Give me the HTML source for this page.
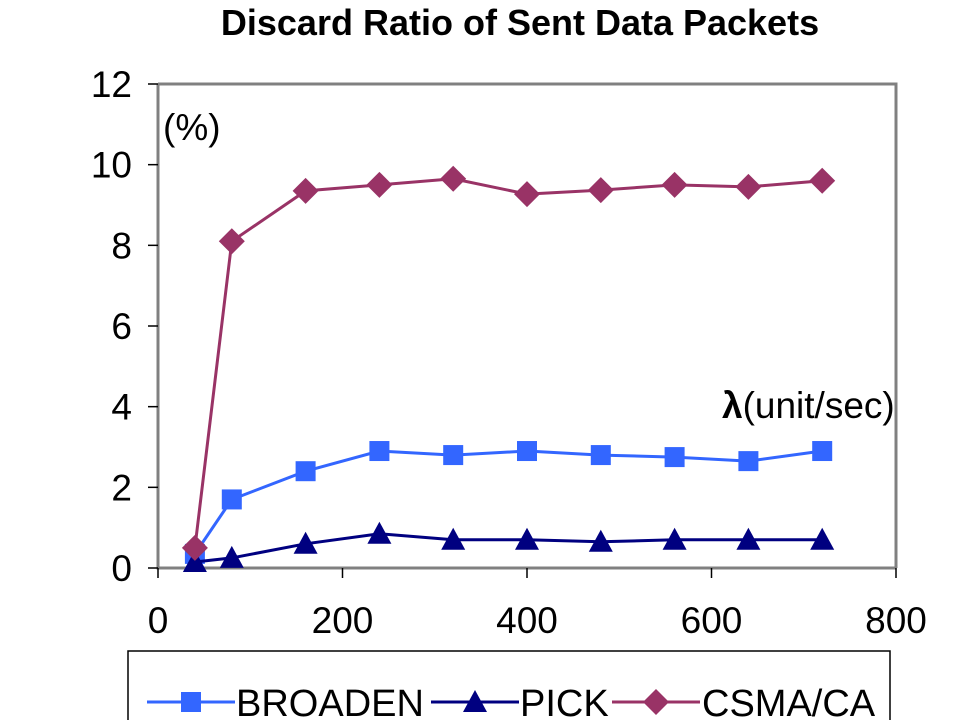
<!DOCTYPE html>
<html><head><meta charset="utf-8"><style>
body{margin:0;background:#fff;}
svg{display:block;font-family:"Liberation Sans",Arial,sans-serif;}
</style></head><body>
<svg id="chart" width="960" height="720">
<text x="520" y="35" text-anchor="middle" font-size="36" font-weight="bold">Discard Ratio of Sent Data Packets</text>
<g id="axes"></g>
<g id="series"></g>
<text x="163" y="140" font-size="37">(%)</text>
<text x="722" y="418" font-size="37"><tspan font-weight="bold">λ</tspan>(unit/sec)</text>
<rect x="128" y="651" width="762" height="80" fill="#fff" stroke="#000" stroke-width="1.5"/>
<g id="legend"></g>
</svg>
<script>
const xVals=[40,80,160,240,320,400,480,560,640,720];
const broaden=[0.35,1.7,2.4,2.9,2.8,2.9,2.8,2.75,2.65,2.9];
const pick=[0.15,0.25,0.6,0.85,0.7,0.7,0.65,0.7,0.7,0.7];
const csma=[0.5,8.1,9.35,9.5,9.65,9.27,9.37,9.5,9.45,9.6];
const xTicks=[0,200,400,600,800];
const yTicks=[0,2,4,6,8,10,12];
const NS="http://www.w3.org/2000/svg";
const X0=158,X1=896,Y0=568,Y1=84;
const sx=v=>X0+(X1-X0)*v/800, sy=v=>Y0-(Y0-Y1)*v/12;
function mk(tag,attrs,parent){const e=document.createElementNS(NS,tag);for(const k in attrs)e.setAttribute(k,attrs[k]);parent.appendChild(e);return e;}
const ax=document.getElementById('axes');
let f=mk('path',{d:`M${X0},${Y1}H${X1}V${Y0}`,fill:'none',stroke:'#808080','stroke-width':3},ax);


let a=mk('path',{d:`M${X0},${Y1}V${Y0}H${X1}`,fill:'none',stroke:'#808080','stroke-width':3},ax);


yTicks.forEach(t=>{
  mk('line',{x1:X0-10,x2:X0,y1:sy(t),y2:sy(t),stroke:'#000','stroke-width':1.5},ax);
  const tx=mk('text',{x:X0-26,y:sy(t)+13,'text-anchor':'end','font-size':37},ax);
  tx.textContent=t;
  
  
});
xTicks.forEach(t=>{
  mk('line',{x1:sx(t),x2:sx(t),y1:Y0,y2:Y0+10,stroke:'#000','stroke-width':1.5},ax);
  const tx=mk('text',{x:sx(t),y:Y0+65,'text-anchor':'middle','font-size':37},ax);
  tx.textContent=t;
  
  
});
function marker(kind,cx,cy,col,g){
  if(kind==='sq')return mk('rect',{x:cx-10,y:cy-10,width:20,height:20,fill:col},g);
  if(kind==='tri')return mk('polygon',{points:`${cx},${cy-12} ${cx+12},${cy+10} ${cx-12},${cy+10}`,fill:col},g);
  return mk('polygon',{points:`${cx},${cy-13} ${cx+13},${cy} ${cx},${cy+13} ${cx-13},${cy}`,fill:col},g);
}
const S=document.getElementById('series');
[[broaden,'#3366ff','sq','broaden'],[pick,'#000080','tri','pick'],[csma,'#993366','dia','csma-ca']].forEach(([d,col,k,n])=>{
  const g=mk('g',{},S);
  
  
  const l=mk('polyline',{points:d.map((v,i)=>sx(xVals[i])+','+sy(v)).join(' '),fill:'none',stroke:col,'stroke-width':3},g);
  
  
  d.forEach((v,i)=>{const m=marker(k,sx(xVals[i]),sy(v),col,g);
    
    });
});
const L=document.getElementById('legend');
[['BROADEN','#3366ff','sq',147,236],['PICK','#000080','tri',431,520],['CSMA/CA','#993366','dia',612,702]].forEach(([t,col,k,x0,tx])=>{
  const g=mk('g',{},L);
  
  
  mk('line',{x1:x0,x2:x0+88,y1:702,y2:702,stroke:col,'stroke-width':3},g);
  marker(k,x0+44,702,col,g);
  const te=mk('text',{x:tx,y:716,'font-size':38},g);
  te.textContent=t;
});
</script>
</body></html>
